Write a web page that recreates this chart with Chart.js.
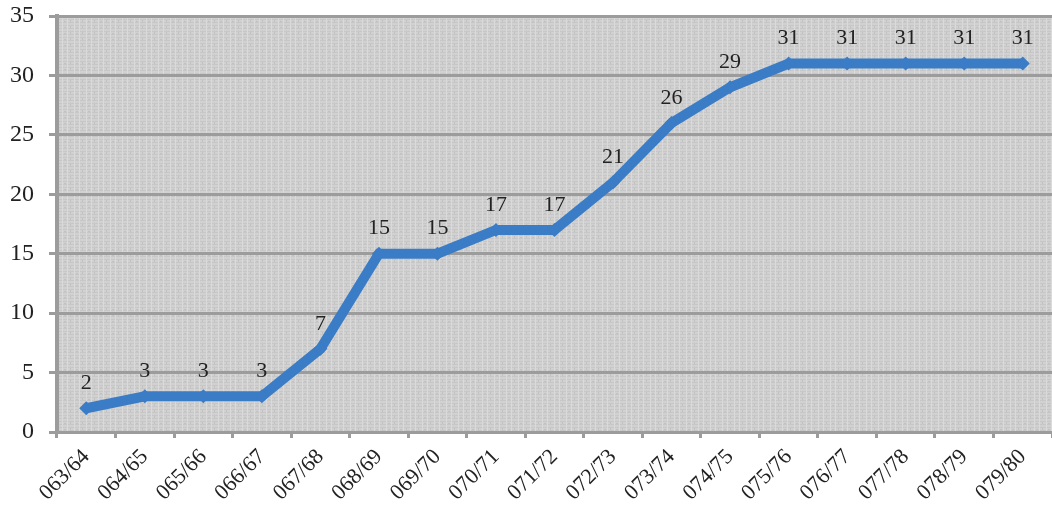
<!DOCTYPE html>
<html>
<head>
<meta charset="utf-8">
<script src="https://cdn.jsdelivr.net/npm/chart.js@4.4.1/dist/chart.umd.min.js"></script>
<style>
  html, body { margin: 0; padding: 0; background: #ffffff; overflow: hidden; }
  #wrap { width: 1052px; height: 506px; position: relative; }
</style>
</head>
<body>
<div id="wrap"><canvas id="chart" width="1052" height="506"></canvas></div>
<script>
// Fiscal years and count per year
const fiscalYears = ['063/64','064/65','065/66','066/67','067/68','068/69','069/70','070/71','071/72','072/73','073/74','074/75','075/76','076/77','077/78','078/79','079/80'];
const counts = [2, 3, 3, 3, 7, 15, 15, 17, 17, 21, 26, 29, 31, 31, 31, 31, 31];
const yTicks = [0, 5, 10, 15, 20, 25, 30, 35];

const serif = '"Liberation Serif", "Times New Roman", serif';
const gridGray = '#9c9c9c';

// Small woven texture used to fill the plot area
function makeTexture() {
  const c = document.createElement('canvas');
  c.width = 12; c.height = 6;
  const g = c.getContext('2d');
  g.fillStyle = '#d1d1d1';
  g.fillRect(0, 0, 12, 6);
  g.fillStyle = '#c7c7c7';
  g.fillRect(0, 1, 12, 1);
  g.fillRect(0, 4, 12, 1);
  g.fillStyle = '#dadada';
  g.fillRect(2, 0, 1, 6);
  g.fillRect(7, 0, 1, 6);
  g.fillStyle = '#c2c2c2';
  g.fillRect(10, 2, 1, 2);
  g.fillRect(4, 3, 2, 1);
  return c;
}

const plotBackground = {
  id: 'plotBackground',
  beforeDraw(chart) {
    const { ctx, chartArea: a } = chart;
    ctx.save();
    ctx.fillStyle = ctx.createPattern(makeTexture(), 'repeat');
    ctx.fillRect(a.left, a.top, a.right - a.left, a.bottom - a.top);
    ctx.restore();
  }
};

const pointLabels = {
  id: 'pointLabels',
  afterDatasetsDraw(chart) {
    const { ctx } = chart;
    const meta = chart.getDatasetMeta(0);
    const data = chart.data.datasets[0].data;
    ctx.save();
    ctx.font = '22px ' + serif;
    ctx.fillStyle = '#222222';
    ctx.textAlign = 'center';
    ctx.textBaseline = 'middle';
    meta.data.forEach((pt, i) => {
      ctx.fillText(String(data[i]), pt.x, pt.y - 25);
    });
    ctx.restore();
  }
};

new Chart(document.getElementById('chart'), {
  type: 'line',
  data: {
    labels: fiscalYears,
    datasets: [{
      data: counts,
      borderColor: '#3b7cc6',
      backgroundColor: '#3b7cc6',
      borderWidth: 10,
      pointStyle: 'rectRot',
      pointRadius: 7,
      pointBorderWidth: 0,
      tension: 0,
      fill: false
    }]
  },
  options: {
    responsive: false,
    animation: false,
    devicePixelRatio: 1,
    layout: { autoPadding: false, padding: { top: 16, right: -3, left: 0, bottom: 0 } },
    plugins: { legend: { display: false }, tooltip: { enabled: false } },
    scales: {
      x: {
        offset: true,
        grid: { drawOnChartArea: false, drawTicks: true, tickLength: 6, color: gridGray, lineWidth: 3, offset: true },
        border: { display: true, color: gridGray, width: 3 },
        ticks: { font: { family: serif, size: 22 }, color: '#222222', maxRotation: 45, minRotation: 45, padding: 6, autoSkip: false },
        afterFit(scale) { scale.height = 74; scale.paddingLeft = 0; scale.paddingRight = 0; }
      },
      y: {
        min: 0,
        max: 35,
        afterBuildTicks(scale) { scale.ticks = yTicks.map(v => ({ value: v })); },
        grid: { color: gridGray, lineWidth: 3, tickLength: 8, drawTicks: true },
        border: { display: true, color: gridGray, width: 4 },
        ticks: { font: { family: serif, size: 24 }, color: '#222222', padding: 15 },
        afterFit(scale) { scale.width = 57; scale.paddingTop = 0; scale.paddingBottom = 0; }
      }
    }
  },
  plugins: [plotBackground, pointLabels]
});
</script>
</body>
</html>
